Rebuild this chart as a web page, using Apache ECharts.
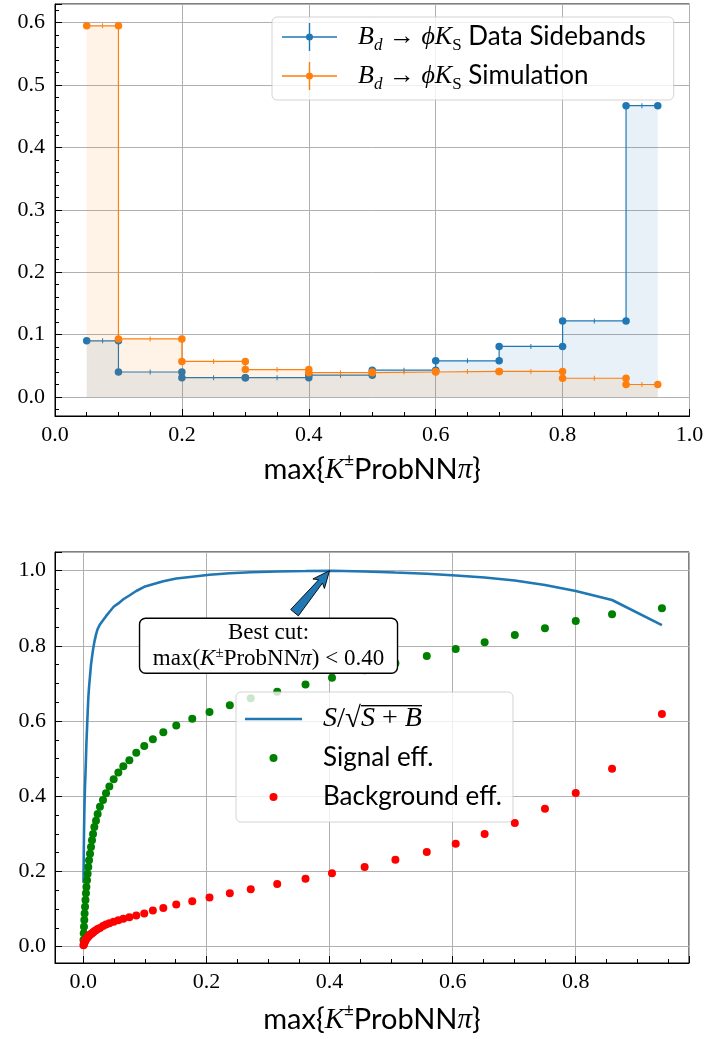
<!DOCTYPE html>
<html>
<head>
<meta charset="utf-8">
<script src="https://cdn.jsdelivr.net/npm/echarts@6/dist/echarts.min.js"></script>
<style>
  html, body { margin: 0; padding: 0; background: #fff; }
  #chart { width: 707px; height: 1039px; }
</style>
</head>
<body>
<div id="chart"></div>
<script>
// ---------- upper panel: normalised max{K± ProbNNπ} distributions ----------
const binEdges = [0.05, 0.1, 0.2, 0.3, 0.4, 0.5, 0.6, 0.7, 0.8, 0.9, 0.95];
const sidebandValues   = [0.090, 0.040, 0.031, 0.031, 0.035, 0.043, 0.058, 0.081, 0.122, 0.467];
const simulationValues = [0.595, 0.093, 0.057, 0.044, 0.039, 0.040, 0.041, 0.041, 0.030, 0.020];

// ---------- lower panel: scan of the cut value ----------
const cutValues = [
  0.0003, 0.0007, 0.0011, 0.0016, 0.0021, 0.0028, 0.0035, 0.0043, 0.0050, 0.0060,
  0.0070, 0.0081, 0.0093, 0.0109, 0.0125, 0.0141, 0.0158, 0.0179, 0.0206, 0.0233,
  0.0270, 0.0320, 0.0369, 0.0423, 0.0493, 0.0569, 0.0650, 0.0748, 0.0860, 0.0990,
  0.1130, 0.1300, 0.1510, 0.1770, 0.2050, 0.2380, 0.2720, 0.3150, 0.3610, 0.4040,
  0.4570, 0.5070, 0.5580, 0.6050, 0.6520, 0.7010, 0.7500, 0.8000, 0.8590, 0.9400
];
const significance = [
  0.17, 0.24, 0.30, 0.35, 0.39, 0.43, 0.46, 0.50, 0.54, 0.58,
  0.62, 0.66, 0.69, 0.72, 0.75, 0.77, 0.79, 0.81, 0.83, 0.845,
  0.857, 0.868, 0.879, 0.890, 0.904, 0.913, 0.924, 0.934, 0.946, 0.957,
  0.964, 0.972, 0.979, 0.984, 0.989, 0.993, 0.996, 0.998, 0.999, 1.000,
  0.998, 0.995, 0.992, 0.987, 0.982, 0.974, 0.962, 0.946, 0.922, 0.855
];
const signalEff = [
  0.018, 0.036, 0.053, 0.071, 0.088, 0.106, 0.124, 0.142, 0.159, 0.177,
  0.194, 0.212, 0.230, 0.247, 0.265, 0.283, 0.300, 0.318, 0.335, 0.353,
  0.372, 0.390, 0.408, 0.426, 0.445, 0.463, 0.480, 0.496, 0.516, 0.534,
  0.552, 0.570, 0.588, 0.606, 0.624, 0.642, 0.661, 0.678, 0.697, 0.715,
  0.735, 0.754, 0.773, 0.792, 0.810, 0.829, 0.847, 0.866, 0.884, 0.900
];
const backgroundEff = [
  0.004, 0.006, 0.008, 0.010, 0.012, 0.015, 0.017, 0.019, 0.021, 0.023,
  0.025, 0.027, 0.029, 0.032, 0.034, 0.036, 0.038, 0.041, 0.044, 0.047,
  0.050, 0.055, 0.059, 0.062, 0.066, 0.070, 0.074, 0.078, 0.083, 0.088,
  0.096, 0.103, 0.112, 0.121, 0.131, 0.142, 0.153, 0.167, 0.181, 0.195,
  0.212, 0.231, 0.252, 0.274, 0.300, 0.329, 0.367, 0.409, 0.473, 0.619
];
const bestCut = 0.40;

// ---------- styling ----------
const SERIF = 'Liberation Serif';
const SANS = 'Lato';
const BLUE = '#1f77b4', ORANGE = '#ff7f0e', GREEN = '#008000', RED = '#ff0000';
const SIDEBAND_NAME = 'Bd → ϕKS Data Sidebands';
const SIMULATION_NAME = 'Bd → ϕKS Simulation';
const SIGNIF_NAME = 'S/√(S+B)';
const SIGNAL_NAME = 'Signal eff.';
const BACKGROUND_NAME = 'Background eff.';

// thin bar used as the vinculum of the square root
const overbar = document.createElement('canvas');
overbar.width = 4; overbar.height = 40;
(function () { const c = overbar.getContext('2d'); c.fillStyle = '#000'; c.fillRect(0, 0, 4, 2); })();

const mathRich = {
  m:   { fontFamily: SERIF, fontStyle: 'italic', fontSize: 26, lineHeight: 34 },
  r:   { fontFamily: SERIF, fontSize: 26, lineHeight: 34 },
  sub: { fontFamily: SERIF, fontStyle: 'italic', fontSize: 17, lineHeight: 16, verticalAlign: 'bottom' },
  subr:{ fontFamily: SERIF, fontSize: 17, lineHeight: 16, verticalAlign: 'bottom' },
  mb:  { fontFamily: SERIF, fontStyle: 'italic', fontSize: 28, lineHeight: 34 },
  rb:  { fontFamily: SERIF, fontSize: 29, lineHeight: 34 },
  ovi: { fontFamily: SERIF, fontStyle: 'italic', fontSize: 28, lineHeight: 28, backgroundColor: { image: overbar } },
  ov:  { fontFamily: SERIF, fontSize: 28, lineHeight: 28, backgroundColor: { image: overbar } }
};

const legendLabels = {};
legendLabels[SIDEBAND_NAME] = '{m|B}{sub|d}{r| → }{m|ϕK}{subr|S} Data Sidebands';
legendLabels[SIMULATION_NAME] = '{m|B}{sub|d}{r| → }{m|ϕK}{subr|S} Simulation';
legendLabels[SIGNIF_NAME] = '{mb|S}{rb|/√}{ovi|S}{ov| + }{ovi|B}';
legendLabels[SIGNAL_NAME] = SIGNAL_NAME;
legendLabels[BACKGROUND_NAME] = BACKGROUND_NAME;

const ERRBAR_ICON = 'path://M0,13.2H55V14.8H0Z M26.8,0H28.2V28H26.8Z ' +
  'M27.5,10.5A3.5,3.5,0,1,1,27.5,17.5A3.5,3.5,0,1,1,27.5,10.5Z';
const LINE_ICON = 'path://M0,0H57V2.5H0Z';

function onStep(v, step) { return Math.abs(v / step - Math.round(v / step)) < 1e-6; }

function valueAxis(gridIndex, min, max, step, minorSplit, extra) {
  return Object.assign({
    type: 'value', gridIndex, min, max,
    splitNumber: Math.round((max - min) / step), minInterval: step, maxInterval: step,
    axisLine: { show: true, onZero: false, lineStyle: { color: '#000', width: 1 } },
    axisTick: { show: true, inside: true, length: 7, lineStyle: { color: '#000', width: 1 } },
    minorTick: { show: true, splitNumber: minorSplit, length: 4, lineStyle: { color: '#000', width: 1 } },
    splitLine: { show: true, lineStyle: { color: '#b0b0b0', width: 1 } },
    axisLabel: {
      fontFamily: SERIF, fontSize: 22, color: '#000', margin: 8,
      formatter: v => (onStep(v, step) ? v.toFixed(1) : '')
    }
  }, extra || {});
}

const xName = 'max{{i|K}{sup|±}ProbNN{i|π}}';
const xNameStyle = {
  fontFamily: SANS, fontSize: 29, lineHeight: 36, color: '#000',
  rich: {
    i: { fontFamily: SERIF, fontStyle: 'italic', fontSize: 29, lineHeight: 36 },
    sup: { fontFamily: SANS, fontSize: 17, lineHeight: 17, verticalAlign: 'top' }
  }
};

function stepPoints(vals) {
  const pts = [];
  vals.forEach((v, i) => { pts.push([binEdges[i], v], [binEdges[i + 1], v]); });
  return pts;
}
function binCentres(vals) {
  return vals.map((v, i) => [(binEdges[i] + binEdges[i + 1]) / 2, v]);
}
function pairs(ys) { return cutValues.map((x, i) => [x, ys[i]]); }

const legendBox = {
  orient: 'vertical', selectedMode: false, itemGap: 5,
  backgroundColor: 'rgba(255,255,255,0.8)', borderColor: 'rgba(200,200,200,0.8)',
  borderWidth: 1, borderRadius: 5,
  formatter: name => legendLabels[name],
  textStyle: { fontFamily: SANS, fontSize: 26, lineHeight: 34, color: '#000', padding: [0, 0, 0, 16], rich: mathRich }
};

const option = {
  animation: false,
  backgroundColor: '#fff',
  grid: [
    { left: 55, top: 4, width: 634.5, height: 412, show: true, borderColor: '#000', borderWidth: 1, backgroundColor: 'transparent' },
    { left: 55, top: 552, width: 634, height: 411, show: true, borderColor: '#000', borderWidth: 1, backgroundColor: 'transparent' }
  ],
  xAxis: [
    valueAxis(0, 0, 1, 0.2, 4, { name: xName, nameLocation: 'middle', nameGap: 36, nameTextStyle: xNameStyle }),
    valueAxis(1, -0.046, 0.984, 0.2, 4, { name: xName, nameLocation: 'middle', nameGap: 39, nameTextStyle: xNameStyle })
  ],
  yAxis: [
    valueAxis(0, -0.0305, 0.630, 0.1, 5, { axisLabel: { fontFamily: SERIF, fontSize: 22, color: '#000', margin: 10,
      formatter: v => (onStep(v, 0.1) ? v.toFixed(1) : '') } }),
    valueAxis(1, -0.0434, 1.0497, 0.2, 4, { axisLabel: { fontFamily: SERIF, fontSize: 22, color: '#000', margin: 9,
      formatter: v => (onStep(v, 0.2) ? v.toFixed(1) : '') } })
  ],
  legend: [
    Object.assign({}, legendBox, {
      left: 272, top: 17, padding: [3, 28, 7, 10], itemWidth: 55, itemHeight: 28,
      data: [
        { name: SIDEBAND_NAME, icon: ERRBAR_ICON, itemStyle: { color: BLUE } },
        { name: SIMULATION_NAME, icon: ERRBAR_ICON, itemStyle: { color: ORANGE } }
      ]
    }),
    Object.assign({}, legendBox, {
      left: 236, top: 692, padding: [10, 11, 8, 9], itemWidth: 57, itemHeight: 8,
      data: [
        { name: SIGNIF_NAME, icon: LINE_ICON, itemStyle: { color: BLUE } },
        { name: SIGNAL_NAME, icon: 'circle', itemStyle: { color: GREEN } },
        { name: BACKGROUND_NAME, icon: 'circle', itemStyle: { color: RED } }
      ]
    })
  ],
  series: [
    // upper panel: stepped histograms with points at the bin edges
    {
      name: SIDEBAND_NAME, type: 'line', xAxisIndex: 0, yAxisIndex: 0,
      data: stepPoints(sidebandValues), color: BLUE,
      symbol: 'circle', symbolSize: 7.5, showSymbol: true,
      lineStyle: { width: 1.2 }, areaStyle: { color: BLUE, opacity: 0.1 },
      emphasis: { disabled: true }, z: 2
    },
    {
      name: 'sideband bin centres', type: 'scatter', xAxisIndex: 0, yAxisIndex: 0,
      data: binCentres(sidebandValues), color: BLUE, symbol: 'rect', symbolSize: [1, 5],
      itemStyle: { opacity: 1 }, emphasis: { disabled: true }, z: 2
    },
    {
      name: SIMULATION_NAME, type: 'line', xAxisIndex: 0, yAxisIndex: 0,
      data: stepPoints(simulationValues), color: ORANGE,
      symbol: 'circle', symbolSize: 7.5, showSymbol: true,
      lineStyle: { width: 1.2 }, areaStyle: { color: ORANGE, opacity: 0.1 },
      emphasis: { disabled: true }, z: 3
    },
    {
      name: 'simulation bin centres', type: 'scatter', xAxisIndex: 0, yAxisIndex: 0,
      data: binCentres(simulationValues), color: ORANGE, symbol: 'rect', symbolSize: [1, 5],
      itemStyle: { opacity: 1 }, emphasis: { disabled: true }, z: 3
    },
    // lower panel: figure of merit and efficiencies versus cut value
    {
      name: SIGNIF_NAME, type: 'line', xAxisIndex: 1, yAxisIndex: 1,
      data: pairs(significance), color: BLUE, symbol: 'none',
      lineStyle: { width: 2.6 }, emphasis: { disabled: true }, z: 2
    },
    {
      name: SIGNAL_NAME, type: 'scatter', xAxisIndex: 1, yAxisIndex: 1,
      data: pairs(signalEff), color: GREEN, symbolSize: 8,
      itemStyle: { opacity: 1 }, emphasis: { disabled: true }, z: 3
    },
    {
      name: BACKGROUND_NAME, type: 'scatter', xAxisIndex: 1, yAxisIndex: 1,
      data: pairs(backgroundEff), color: RED, symbolSize: 8,
      itemStyle: { opacity: 1 }, emphasis: { disabled: true }, z: 3
    },
    // annotation of the optimal cut: arrow to the maximum plus a boxed label
    {
      name: 'best cut', type: 'custom', xAxisIndex: 1, yAxisIndex: 1, clip: false, silent: true, z: 6,
      data: [[bestCut, Math.max.apply(null, significance)]],
      renderItem: function (params, api) {
        const tip = api.coord([api.value(0), api.value(1)]);
        const tx = tip[0], ty = tip[1];
        const sx = tx - 35, sy = ty + 42;
        const dx = tx - sx, dy = ty - sy, L = Math.hypot(dx, dy);
        const ux = dx / L, uy = dy / L, px = -uy, py = ux;
        const P = (u, v) => [sx + ux * u + px * v, sy + uy * u + py * v];
        const headLen = 14, headW = 7.5, neckW = 2.5, tailW = 5;
        const arrow = [P(0, -tailW), P(L - headLen, -neckW), P(L - headLen - 3, -headW), P(L, 0),
                       P(L - headLen - 3, headW), P(L - headLen, neckW), P(0, tailW)];
        const bx = tx - 61, by = ty + 75;
        const label = '{r|Best cut:}\n{r|max(}{i|K}{sup|±}{r|ProbNN}{i|π}{r|) < ' + bestCut.toFixed(2) + '}';
        return {
          type: 'group',
          children: [
            { type: 'polygon', shape: { points: arrow }, style: { fill: BLUE, stroke: '#000', lineWidth: 0.9 } },
            { type: 'rect', shape: { x: bx - 129, y: by - 27.5, width: 258, height: 55, r: 6 },
              style: { fill: '#fff', stroke: '#000', lineWidth: 1.4 } },
            { type: 'text', x: bx, y: by,
              style: {
                text: label, align: 'center', verticalAlign: 'middle', fill: '#000',
                rich: {
                  r: { fontFamily: SERIF, fontSize: 23, lineHeight: 26 },
                  i: { fontFamily: SERIF, fontStyle: 'italic', fontSize: 23, lineHeight: 26 },
                  sup: { fontFamily: SERIF, fontSize: 15, lineHeight: 14, verticalAlign: 'top' }
                }
              } }
          ]
        };
      }
    }
  ]
};

const chart = echarts.init(document.getElementById('chart'), null, { renderer: 'canvas' });
chart.setOption(option);
</script>
</body>
</html>
